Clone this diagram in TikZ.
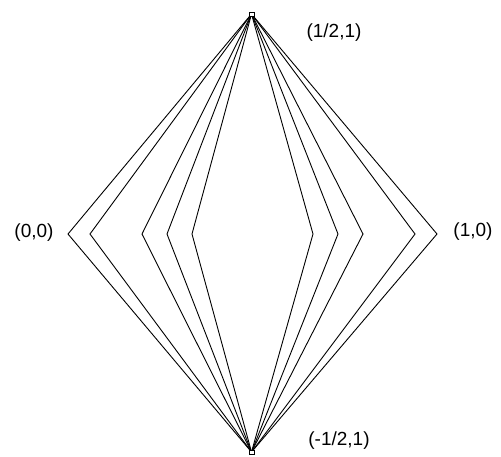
\documentclass[tikz,border=0pt]{standalone}
\usepackage{fontspec}
\setmainfont{Liberation Sans}
\begin{document}
\begin{tikzpicture}[x=1pt,y=-1pt,
  edge/.style={draw=black,line width=0.9pt},
  apex/.style={draw=black,fill=white,line width=0.6pt,inner sep=0pt,minimum width=5pt,minimum height=4pt},
  lbl/.style={font=\fontsize{19}{22}\selectfont,inner sep=0pt}]
\useasboundingbox (0,0) rectangle (501,456);
\coordinate (T) at (251.5,14);
\coordinate (B) at (251.5,452);
\foreach \x [count=\i] in {68,90,142,167,192,313,338,363,415,437}
  \coordinate (v\i) at (\x,234);
\foreach \i in {1,...,10}
  \draw[edge] (T) -- (v\i) -- (B);
\node[apex] (top) at (T) {};
\node[apex] (bot) at (B) {};
\node[lbl] (lt) at (334,33) {(1/2,1)};
\node[lbl] (lb) at (339,441) {(-1/2,1)};
\node[lbl] (ll) at (34,233) {(0,0)};
\node[lbl] (lr) at (473,232) {(1,0)};
\end{tikzpicture}
\end{document}
